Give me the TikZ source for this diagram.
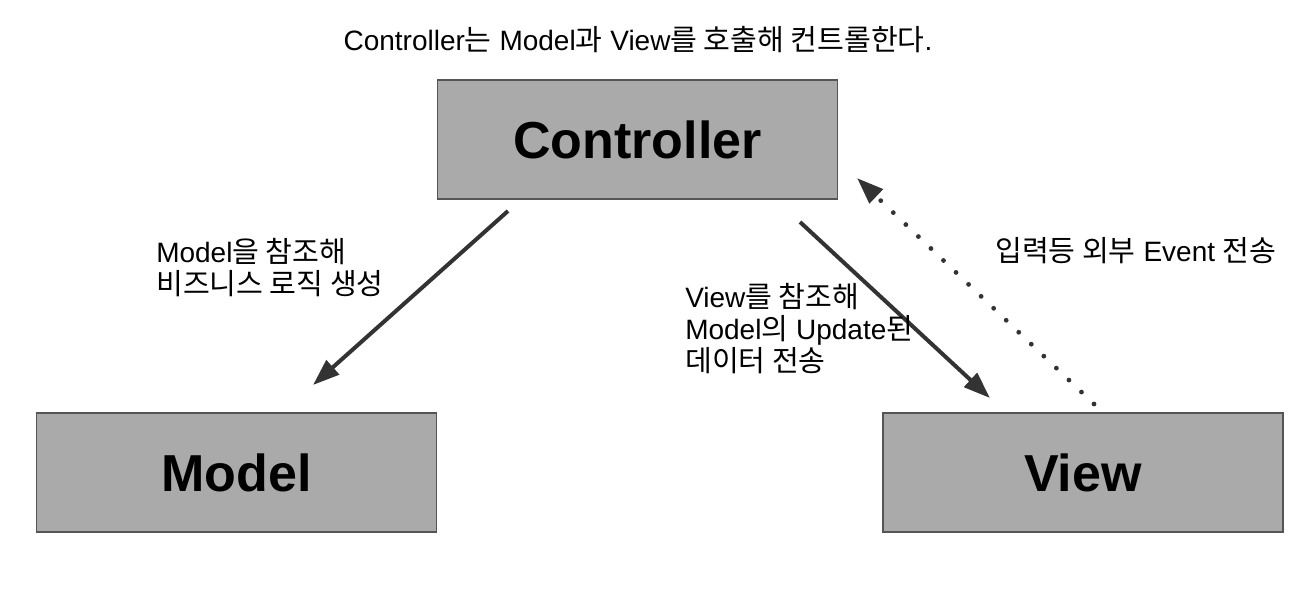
\documentclass[tikz,border=0pt]{standalone}
\usepackage{fontspec}
\setmainfont{Liberation Sans}
\newfontfamily\krfont[Scale=1.04]{Noto Sans CJK KR}
\newcommand\K[1]{{\krfont #1}}
\usetikzlibrary{arrows.meta}
\definecolor{boxfill}{RGB}{170,170,170}
\definecolor{boxline}{RGB}{85,85,85}
\definecolor{arr}{RGB}{51,51,51}
\begin{document}
\begin{tikzpicture}[x=0.75pt,y=-0.75pt,
  comp/.style={draw=boxline,line width=1.2pt,fill=boxfill,minimum width=300pt,minimum height=89pt,inner sep=0pt,font=\fontsize{39}{45}\selectfont\bfseries},
  lbl/.style={anchor=west,align=left,inner sep=0pt,font=\fontsize{21}{24}\selectfont},
  flow/.style={draw=arr,line width=3pt,-{Triangle[length=20pt,width=14pt]}},
  evt/.style={draw=arr,line width=3.6pt,line cap=round,dash pattern=on 0pt off 13pt,-{Triangle[length=20pt,width=14pt,line cap=butt]}}
]
\useasboundingbox (0,0) rectangle (1313,601);
\node[inner sep=0pt,font=\fontsize{21}{24}\selectfont] (title) at (638,40) {Controller\K{는} Model\K{과} View\K{를 호출해 컨트롤한다}.};
\node[comp] (ctrl) at (637.5,139.5) {Controller};
\node[comp] (model) at (236.5,472.5) {Model};
\node[comp] (view) at (1083,472.5) {View};
\coordinate (a1s) at (508,211);
\coordinate (a1e) at (313,385);
\coordinate (a2s) at (800,222);
\coordinate (a2e) at (990,398);
\coordinate (a3s) at (1094,404);
\coordinate (a3e) at (857,178);
\draw[flow] (a1s) -- (a1e);
\draw[flow] (a2s) -- (a2e);
\draw[evt] (a3s) -- (a3e);
\node[lbl] (l1) at (156,268) {Model\K{을 참조해}\\\K{비즈니스 로직 생성}};
\node[lbl] (l2) at (685,329) {View\K{를 참조해}\\Model\K{의} Update\K{된}\\\K{데이터 전송}};
\node[lbl] (l3) at (995,251) {\K{입력등 외부} Event \K{전송}};
\end{tikzpicture}
\end{document}
